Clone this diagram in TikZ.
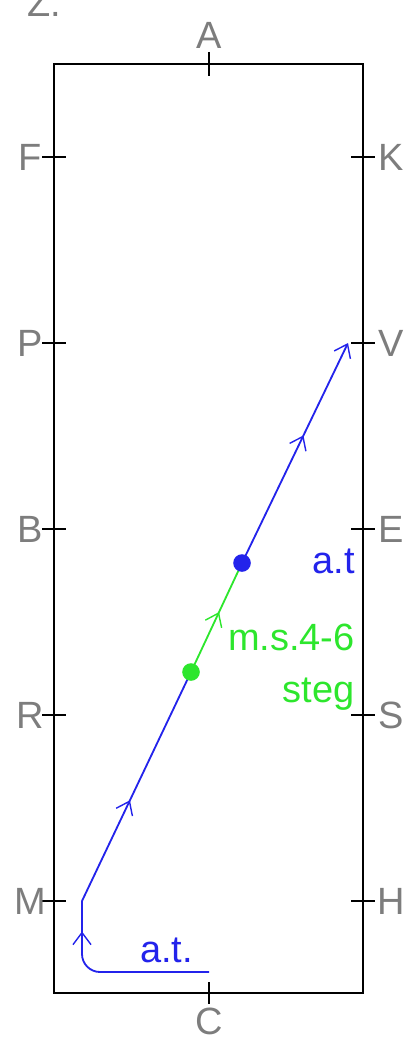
\documentclass[tikz,border=0pt]{standalone}
\usepackage{fontspec}
\setmainfont{Liberation Sans}
\usetikzlibrary{arrows.meta,decorations.markings}
\definecolor{atblue}{RGB}{35,35,235}
\definecolor{msgreen}{RGB}{45,230,45}
\definecolor{labelgray}{RGB}{125,125,125}
\tikzset{
  letter/.style={font=\fontsize{27}{30}\selectfont, text=labelgray, inner sep=0pt},
  tickline/.style={line width=1.3pt},
  dot/.style={circle, fill=#1, minimum size=0.44cm, inner sep=0pt},
  barb/.tip={Straight Barb[length=3mm,width=4.5mm,line width=1pt]},
  midarrow/.style={postaction={decorate}, decoration={markings, mark=at position #1 with {\arrow{barb}}}},
}
\begin{document}
\begin{tikzpicture}[x=0.025cm, y=-0.025cm]
  \useasboundingbox (0,0) rectangle (407,1037);

  % arena
  \draw[line width=1.3pt] (54,64) rectangle (363,993);
  \node[letter, anchor=base west] (z) at (27,17) {Z.};

  % letters on the short sides
  \draw[tickline] (209,52) -- (209,76);
  \node[letter] (A) at (209,35) {A};
  \draw[tickline] (209,982) -- (209,1004);
  \node[letter] (C) at (209,1021) {C};

  % letters on the long sides
  \foreach \y/\l/\r in {157/F/K, 343/P/V, 529/B/E, 715/R/S, 901/M/H} {
    \draw[tickline] (42,\y) -- (66,\y);
    \draw[tickline] (351,\y) -- (375,\y);
    \node[letter] (\l) at (30,\y) {\l};
    \node[letter] (\r) at (391,\y) {\r};
  }

  % track
  \coordinate (start) at (209,972);
  \coordinate (corner) at (82,972);
  \coordinate (turn) at (82,901);
  \coordinate (green) at (191,672);
  \coordinate (blue) at (242,563);
  \coordinate (endV) at (348,343);
  \draw[atblue, line width=1.3pt, rounded corners=0.45cm, midarrow=0.84] (start) -- (corner) -- (turn);
  \draw[atblue, line width=1.3pt, midarrow=0.44] (turn) -- (green);
  \draw[msgreen, line width=1.3pt, midarrow=0.55] (green) -- (blue);
  \draw[atblue, line width=1.3pt, midarrow=0.58, -barb] (blue) -- (endV);

  % dots
  \node[dot=msgreen] (greendot) at (green) {};
  \node[dot=atblue] (bluedot) at (blue) {};

  % labels
  \node[letter, text=atblue, anchor=base east] (at1) at (355,573) {a.t};
  \node[letter, text=msgreen, anchor=base east] (ms) at (355,650) {m.s.4-6};
  \node[letter, text=msgreen, anchor=base east] (steg) at (355,702) {steg};
  \node[letter, text=atblue, anchor=base west] (at2) at (140,962) {a.t.};
\end{tikzpicture}
\end{document}
